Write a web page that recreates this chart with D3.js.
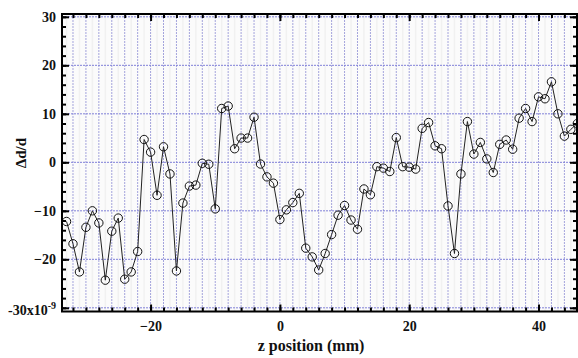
<!DOCTYPE html>
<html><head><meta charset="utf-8">
<script src="https://cdn.jsdelivr.net/npm/d3@7"></script>
<style>
body{margin:0;background:#fff;}
svg{display:block;}
</style></head>
<body><svg id="c" width="578" height="358"></svg>
<script>
const zPos = [-33,-32,-31,-30,-29,-28,-27,-26,-25,-24,-23,-22,-21,-20,-19,-18,-17,-16,-15,-14,-13,-12,-11,-10,-9,-8,-7,-6,-5,-4,-3,-2,-1,0,1,2,3,4,5,6,7,8,9,10,11,12,13,14,15,16,17,18,19,20,21,22,23,24,25,26,27,28,29,30,31,32,33,34,35,36,37,38,39,40,41,42,43,44,45,46];
const deltaD = [-12.2,-16.8,-22.6,-13.4,-10.0,-12.5,-24.3,-14.2,-11.5,-24.1,-22.6,-18.4,4.7,2.1,-6.8,3.2,-2.4,-22.4,-8.4,-4.9,-4.7,-0.2,-0.4,-9.6,11.1,11.6,2.8,5.0,5.0,9.3,-0.35,-3.0,-4.3,-11.8,-9.8,-8.3,-6.4,-17.7,-19.5,-22.2,-18.8,-14.9,-10.9,-8.9,-11.9,-13.8,-5.5,-6.7,-0.9,-1.2,-1.9,5.1,-0.9,-1.0,-1.4,7.0,8.2,3.4,2.8,-9.0,-18.8,-2.4,8.4,1.7,4.1,0.7,-2.1,3.7,4.6,2.7,9.1,11.1,8.4,13.5,13.1,16.6,10.0,5.4,6.8,8.0];
const xTicks = [-20,0,20,40];
const yTicks = [-30,-20,-10,0,10,20,30];
const xLabel = "z position (mm)";
const yLabel = "\u0394d/d";

const FONT = "'Liberation Serif','Times New Roman',serif";
const svg = d3.select("#c");
const L=62, R=577, T=14, B=311.5;
const x = d3.scaleLinear().domain([-33.7,45.95]).range([L,R]);
const y = d3.scaleLinear().domain([-30.76,30.58]).range([B,T]);

svg.append("rect").attr("x",L).attr("y",T).attr("width",R-L).attr("height",B-T).attr("fill","#fbfbfb");

const xMinor = d3.range(-32,46,2);
const xOdd = d3.range(-33,46,2);
const yMinor = d3.range(-30,31,2);

svg.append("g").selectAll("line").data(xOdd).join("line")
  .attr("x1",d=>x(d)).attr("x2",d=>x(d)).attr("y1",T).attr("y2",B)
  .attr("stroke","#f1f1f1").attr("stroke-width",1.5);
svg.append("g").selectAll("line").data(xMinor).join("line")
  .attr("x1",d=>x(d)).attr("x2",d=>x(d)).attr("y1",T).attr("y2",B)
  .attr("stroke","#a4a4dc").attr("stroke-width",1).attr("stroke-dasharray","2,1");
svg.append("g").selectAll("line").data(yTicks).join("line")
  .attr("x1",L).attr("x2",R).attr("y1",d=>y(d)).attr("y2",d=>y(d))
  .attr("stroke","#8080d8").attr("stroke-width",1).attr("stroke-dasharray","2,1");

const pts = zPos.map((z,i)=>[z,deltaD[i]]);
svg.append("path").datum(pts)
  .attr("fill","none").attr("stroke","#222").attr("stroke-width",1)
  .attr("d", d3.line().x(d=>x(d[0])).y(d=>y(d[1])));
svg.append("g").selectAll("circle").data(pts).join("circle")
  .attr("cx",d=>x(d[0])).attr("cy",d=>y(d[1])).attr("r",4.2)
  .attr("fill","none").attr("stroke","#111").attr("stroke-width",1);

function styleAxis(g){
  g.select(".domain").remove();
  g.selectAll(".tick line").attr("stroke","#000").attr("stroke-width",2);
  g.selectAll("text").style("font-family",FONT).style("font-size","14px").style("font-weight","bold").attr("fill","#111");
}
const minorLen=-4, majorLen=-7;
svg.append("g").attr("transform",`translate(0,${B})`).call(d3.axisBottom(x).tickValues(xMinor).tickSize(minorLen).tickFormat("")).call(styleAxis);
svg.append("g").attr("transform",`translate(0,${T})`).call(d3.axisTop(x).tickValues(xMinor).tickSize(minorLen).tickFormat("")).call(styleAxis);
svg.append("g").attr("transform",`translate(${L},0)`).call(d3.axisLeft(y).tickValues(yMinor).tickSize(minorLen).tickFormat("")).call(styleAxis);
svg.append("g").attr("transform",`translate(${R},0)`).call(d3.axisRight(y).tickValues(yMinor).tickSize(minorLen).tickFormat("")).call(styleAxis);
svg.append("g").attr("transform",`translate(0,${B})`).call(d3.axisBottom(x).tickValues(xTicks).tickSize(majorLen).tickPadding(10).tickFormat(d3.format("d"))).call(styleAxis);
svg.append("g").attr("transform",`translate(0,${T})`).call(d3.axisTop(x).tickValues(xTicks).tickSize(majorLen).tickFormat("")).call(styleAxis);
const yAx = svg.append("g").attr("transform",`translate(${L},0)`).call(d3.axisLeft(y).tickValues(yTicks).tickSize(majorLen).tickPadding(6).tickFormat(d3.format("d"))).call(styleAxis);
svg.append("g").attr("transform",`translate(${R},0)`).call(d3.axisRight(y).tickValues(yTicks).tickSize(majorLen).tickFormat("")).call(styleAxis);
yAx.selectAll(".tick text").filter(d=>d===-30).each(function(){
  const t=d3.select(this); t.text("");
  t.append("tspan").text("-30x10");
  t.append("tspan").style("font-size","10px").attr("dy",-6).text("-9");
}).attr("transform","translate(0,2)");

svg.append("rect").attr("x",L).attr("y",T).attr("width",R-L).attr("height",B-T)
  .attr("fill","none").attr("stroke","#000").attr("stroke-width",2);

svg.append("text").attr("x",311).attr("y",351).attr("text-anchor","middle")
  .style("font-family",FONT).style("font-size","16px").style("font-weight","bold").attr("fill","#111").text(xLabel);
svg.append("text").attr("transform","translate(26,153) rotate(-90)").attr("text-anchor","middle")
  .style("font-family",FONT).style("font-size","15px").style("font-weight","bold").attr("fill","#111").text(yLabel);
</script></body></html>
